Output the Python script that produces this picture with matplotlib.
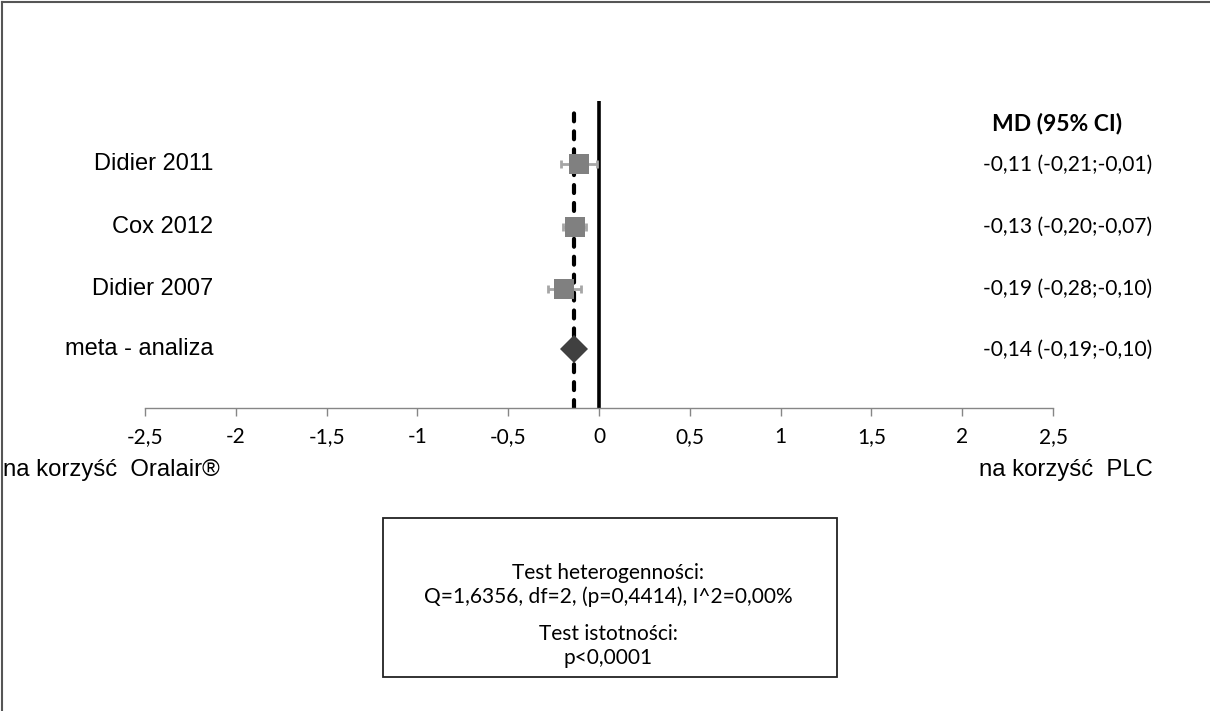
import matplotlib

matplotlib.use('Agg')
import matplotlib.pyplot as plt
import matplotlib.transforms as mtransforms
from matplotlib.patches import Rectangle
from matplotlib.lines import Line2D

# Data
studies = ['Didier 2011', 'Cox 2012', 'Didier 2007']
md = [-0.11, -0.13, -0.19]
ci_low = [-0.21, -0.20, -0.28]
ci_high = [-0.01, -0.07, -0.10]
pooled_label = 'meta - analiza'
pooled_md = -0.14
pooled_low = -0.19
pooled_high = -0.10
x_ticks = [-2.5, -2, -1.5, -1, -0.5, 0, 0.5, 1, 1.5, 2, 2.5]
het_lines = ['Test heterogenności:', 'Q=1,6356, df=2, (p=0,4414), I^2=0,00%',
             '', 'Test istotności:', 'p<0,0001']


def fmt(v):
    return f'{v:.2f}'.replace('.', ',')


W, H = 1210, 711
fig = plt.figure(figsize=(W / 100, H / 100), dpi=100)


def fx(px):
    return px / W


def fy(py):
    return 1 - py / H


# axes: x from -2.5 (145 px) to 2.5 (1053 px), baseline at 408 px
unit = 61.67
y_bottom, y_top = 0.0, 5.2
ax = fig.add_axes([fx(145), fy(408), 908 / W, (y_top - y_bottom) * unit / H])
ax.set_xlim(-2.5, 2.5)
ax.set_ylim(y_bottom, y_top)

rows = [3.95, 2.93, 1.93, 0.95]
pooled_row = rows.pop()

# reference lines
ax.plot([0, 0], [y_bottom, 4.98], color='black', lw=2.6, zorder=2,
        solid_capstyle='butt')
ax.plot([pooled_md, pooled_md], [y_bottom, 4.84], color='black', lw=3,
        linestyle=(0, (1.9, 2.4)), dash_capstyle='round', zorder=2)

# studies
for y, m, lo, hi in zip(rows, md, ci_low, ci_high):
    ax.errorbar(m, y, xerr=[[m - lo], [hi - m]], fmt='none', ecolor='#a6a6a6',
                elinewidth=2, capsize=3.2, capthick=2, zorder=3)
    ax.plot(m, y, marker='s', markersize=14, color='#808080', zorder=4,
            markeredgewidth=0)

# pooled estimate
ax.plot(pooled_md, pooled_row, marker='D', markersize=14.5, color='#404040',
        zorder=4, markeredgewidth=0)

# axis styling
for s in ['top', 'right', 'left']:
    ax.spines[s].set_visible(False)
ax.spines['bottom'].set_color('#868686')
ax.spines['bottom'].set_linewidth(1)
ax.set_yticks([])
ax.set_xticks(x_ticks)
ax.set_xticklabels([f'{t:g}'.replace('.', ',') for t in x_ticks],
                   fontfamily='Lato', fontsize=15)
ax.tick_params(axis='x', direction='out', length=6, width=1, color='#868686',
               pad=8)
ax.patch.set_alpha(0)

# labels on both sides
trans = mtransforms.blended_transform_factory(fig.transFigure, ax.transData)
all_rows = rows + [pooled_row]
all_labels = studies + [pooled_label]
all_md = md + [pooled_md]
all_lo = ci_low + [pooled_low]
all_hi = ci_high + [pooled_high]
for y, lab, m, lo, hi in zip(all_rows, all_labels, all_md, all_lo, all_hi):
    ax.text(fx(213), y, lab, transform=trans, ha='right', va='center',
            fontfamily='Liberation Sans', fontsize=17)
    ax.text(fx(983), y, f'{fmt(m)} ({fmt(lo)};{fmt(hi)})', transform=trans,
            ha='left', va='center', fontfamily='Lato', fontsize=15.1)

fig.text(fx(992), fy(124), 'MD (95% CI)', ha='left', va='center',
         fontfamily='Lato', fontsize=16.5, fontweight='bold')

fig.text(fx(3), fy(470), 'na korzyść  Oralair®', ha='left', va='center',
         fontfamily='Liberation Sans', fontsize=17.2)
fig.text(fx(1153), fy(470), 'na korzyść  PLC', ha='right', va='center',
         fontfamily='Liberation Sans', fontsize=17.2)

# heterogeneity box
fig.patches.append(Rectangle((fx(383), fy(677)), 454 / W, 159 / H,
                             transform=fig.transFigure, fill=False,
                             edgecolor='#222222', lw=1.3))
line_y = [573, 597, 615, 634, 658]
for txt, y in zip(het_lines, line_y):
    if txt:
        fig.text(fx(608), fy(y), txt, ha='center', va='center',
                 fontfamily='Lato', fontsize=15)

# frame of the chart area (left and top only)
fig.lines.append(Line2D([fx(2), fx(2)], [0, fy(2)], transform=fig.transFigure,
                        color='#555555', lw=1.5))
fig.lines.append(Line2D([fx(2), 1], [fy(2), fy(2)], transform=fig.transFigure,
                        color='#555555', lw=1.5))

fig.savefig('out.png', dpi=100)
